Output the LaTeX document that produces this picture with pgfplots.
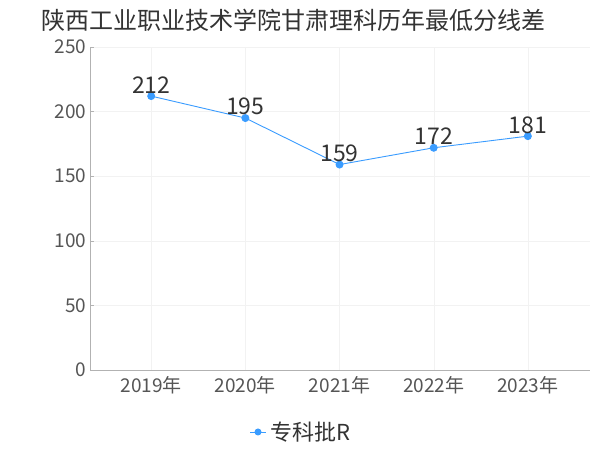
\documentclass[border=0pt]{standalone}
\usepackage{pgfplots}
\pgfplotsset{compat=1.18}
\usepackage{fontspec}
\setmainfont{Noto Sans CJK SC}
\definecolor{lineblue}{HTML}{3A9CFF}
\definecolor{ticktxt}{HTML}{555555}
\definecolor{titletxt}{HTML}{333333}
\begin{document}
\begin{tikzpicture}[x=1bp,y=1bp]
\path[use as bounding box,fill=white] (0,0) rectangle (600,450);
\node[anchor=west,text=titletxt,font=\fontsize{24bp}{27bp}\selectfont,inner sep=0] at (41,430) {陕西工业职业技术学院甘肃理科历年最低分线差};
\begin{axis}[
  at={(90bp,80bp)}, anchor=south west,
  scale only axis, width=500bp, height=323bp,
  xmin=-0.65, xmax=4.66, ymin=0, ymax=250,
  xtick={0,1,2,3,4},
  xticklabels={2019年,2020年,2021年,2022年,2023年},
  ytick={0,50,100,150,200,250},
  axis lines*=left,
  axis line style={draw=black!30},
  grid=major,
  grid style={draw=black!5},
  major tick length=4bp,
  tick style={draw=black!30},
  xtick style={draw=none},
  ticklabel style={text=ticktxt,font=\fontsize{19bp}{21bp}\selectfont},
  /pgf/number format/assume math mode=true,
  xticklabel style={yshift=-3bp},
  clip=false,
  nodes near coords,
  every node near coord/.append style={text=titletxt,font=\fontsize{23bp}{25bp}\selectfont,yshift=-1bp},
]
\addplot[color=lineblue, line width=0.9bp, mark=*, mark size=3.5bp, mark options={fill=lineblue,draw=lineblue}]
  coordinates {(0,212) (1,195) (2,159) (3,172) (4,181)};
\end{axis}
\draw[lineblue,line width=0.9bp] (250,18) -- (266,18);
\fill[lineblue] (258,18) circle (3.5);
\node[anchor=west,text=titletxt,font=\fontsize{22bp}{24bp}\selectfont,inner sep=0] at (270,18) {专科批R};
\end{tikzpicture}
\end{document}
